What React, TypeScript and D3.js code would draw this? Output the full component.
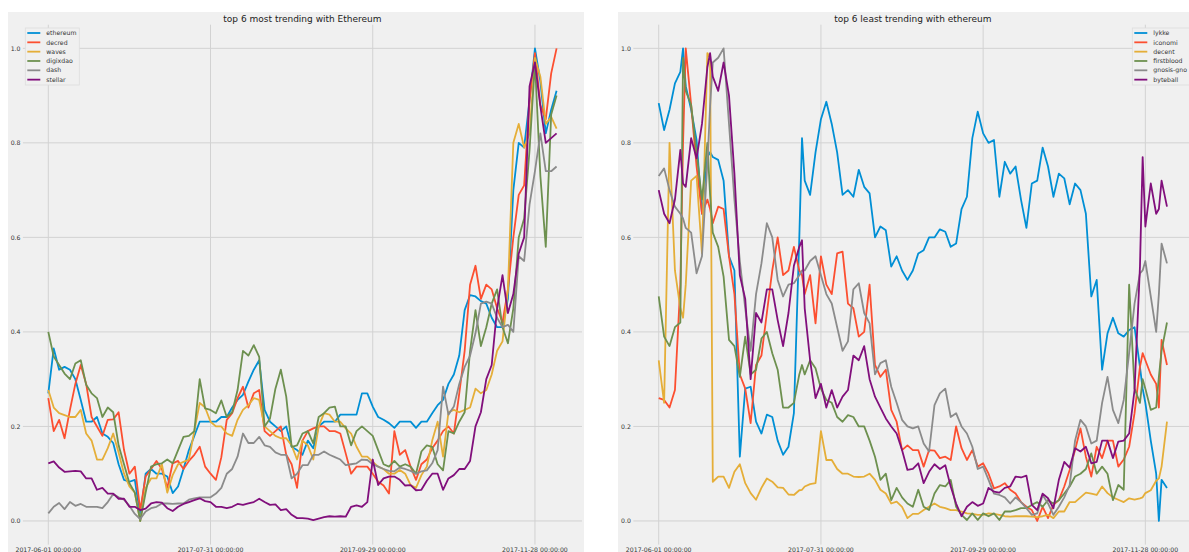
import React from "react";
import { scaleLinear, scaleTime, line, timeDay, timeParse } from "d3";

const startDate = new Date(2017, 5, 1);

// days since 2017-06-01, every two days
const leftDays = [0, 2, 4, 6, 8, 10, 12, 14, 16, 18, 20, 22, 24, 26, 28, 30, 32, 34, 36, 38, 40, 42, 44, 46, 48,
  50, 52, 54, 56, 58, 60, 62, 64, 66, 68, 70, 72, 74, 76, 78, 80, 82, 84, 86, 88, 90, 92, 94, 96, 98, 100,
  102, 104, 106, 108, 110, 112, 114, 116, 118, 120, 122, 124, 126, 128, 130, 132, 134, 136, 138, 140, 142,
  144, 146, 148, 150, 152, 154, 156, 158, 160, 162, 164, 166, 168, 170, 172, 174, 176, 178, 180, 182, 184, 186, 188];

// right panel also has a few odd days where a spike sits
const rightDays = [0, 2, 4, 6, 8, 9, 10,
  12, 14, 16, 18, 19, 20,
  22, 24, 26, 28, 30, 32, 34, 36, 38, 40,
  42, 44, 46, 48, 50, 52, 53, 54, 56, 58, 60,
  62, 64, 66, 68, 70, 72, 74, 76, 78, 80,
  82, 84, 86, 88, 90, 92, 94, 96, 98, 100,
  102, 104, 106, 108, 110, 112, 114, 116, 118, 120,
  122, 124, 126, 128, 130, 132, 134, 136, 138, 140,
  142, 144, 146, 148, 150, 152, 154, 156, 158, 160,
  162, 164, 166, 168, 170, 172, 174, 176,
  178, 179, 180, 182, 184, 185, 186, 188];

const leftNames = ["ethereum", "decred", "waves", "digixdao", "dash", "stellar"];
const rightNames = ["lykke", "iconomi", "decent", "firstblood", "gnosis-gno", "byteball"];

const ethereum = [0.27, 0.365, 0.32, 0.326, 0.32, 0.30, 0.256, 0.21, 0.21, 0.22, 0.185, 0.178, 0.165, 0.12, 0.087, 0.083,
  0.087, 0.01, 0.10, 0.11, 0.10, 0.1, 0.094, 0.059, 0.073, 0.11, 0.15, 0.18, 0.21, 0.21, 0.21, 0.21, 0.22, 0.22, 0.24,
  0.256, 0.267, 0.295, 0.32, 0.34, 0.235, 0.21, 0.20, 0.19, 0.20, 0.157, 0.15,
  0.14, 0.17, 0.154, 0.20, 0.21, 0.21, 0.21, 0.225, 0.225, 0.225, 0.225, 0.27, 0.27, 0.242, 0.22, 0.214, 0.207, 0.197,
  0.21, 0.21, 0.21, 0.197, 0.21, 0.21, 0.228, 0.245, 0.256, 0.29, 0.31, 0.35, 0.446, 0.478, 0.475, 0.465, 0.46, 0.43,
  0.41, 0.41, 0.47, 0.7, 0.8, 0.79, 0.89, 1.0, 0.93, 0.82, 0.87, 0.91];
const decred = [0.26, 0.19, 0.214, 0.175, 0.235, 0.29, 0.33, 0.29, 0.22, 0.2, 0.18, 0.214, 0.215, 0.23, 0.15, 0.1,
  0.115, 0.023, 0.094, 0.11, 0.127, 0.11, 0.07, 0.122, 0.127, 0.11, 0.127, 0.14, 0.157, 0.115, 0.10, 0.087, 0.135,
  0.214, 0.228, 0.26, 0.284, 0.24, 0.27, 0.277, 0.19, 0.18, 0.19, 0.2, 0.14, 0.12, 0.07,
  0.17, 0.19, 0.196, 0.2, 0.2, 0.19, 0.19, 0.185, 0.143, 0.1, 0.115, 0.115, 0.115, 0.1, 0.083, 0.075, 0.058, 0.19,
  0.14, 0.15, 0.115, 0.087, 0.12, 0.13, 0.154, 0.17, 0.19, 0.2, 0.185, 0.27, 0.36, 0.5, 0.54, 0.47, 0.5, 0.49, 0.45,
  0.42, 0.49, 0.6, 0.69, 0.71, 0.89, 0.99, 0.88, 0.85, 0.947, 1.0];
const waves = [0.277, 0.24, 0.228, 0.224, 0.22, 0.22, 0.235, 0.185, 0.17, 0.13, 0.13, 0.154, 0.185, 0.145, 0.1, 0.073,
  0.06, 0.0, 0.07, 0.09, 0.09, 0.12, 0.06, 0.097, 0.12, 0.125, 0.13, 0.19, 0.25, 0.24, 0.21, 0.2, 0.2, 0.185, 0.18,
  0.214, 0.235, 0.245, 0.26, 0.256, 0.2, 0.19, 0.18, 0.175, 0.175, 0.16, 0.13,
  0.17, 0.16, 0.13, 0.2, 0.228, 0.225, 0.21, 0.21, 0.196, 0.185, 0.157, 0.136, 0.136, 0.125, 0.115, 0.11, 0.1, 0.1,
  0.108, 0.1, 0.076, 0.07, 0.097, 0.115, 0.17, 0.21, 0.136, 0.23, 0.235, 0.23, 0.235, 0.24, 0.28, 0.27, 0.277, 0.31,
  0.36, 0.38, 0.49, 0.8, 0.84, 0.79, 0.82, 0.98, 0.94, 0.84, 0.855, 0.83];
const digixdao = [0.40, 0.348, 0.33, 0.312, 0.3, 0.333, 0.34, 0.288, 0.27, 0.26, 0.22, 0.24, 0.23, 0.16, 0.12, 0.08,
  0.06, 0.0, 0.06, 0.115, 0.12, 0.122, 0.13, 0.122, 0.15, 0.178, 0.18, 0.19, 0.3, 0.238, 0.235, 0.228, 0.255, 0.22,
  0.23, 0.277, 0.36, 0.35, 0.372, 0.347, 0.2, 0.217, 0.28, 0.32, 0.263, 0.157, 0.16,
  0.185, 0.19, 0.164, 0.22, 0.228, 0.24, 0.242, 0.2, 0.2, 0.16, 0.19, 0.2, 0.19, 0.18, 0.15, 0.12, 0.115, 0.127,
  0.115, 0.12, 0.115, 0.1, 0.147, 0.16, 0.157, 0.12, 0.107, 0.19, 0.185, 0.21, 0.23, 0.36, 0.446, 0.37, 0.41, 0.46,
  0.49, 0.41, 0.376, 0.45, 0.6, 0.64, 0.785, 0.97, 0.73, 0.58, 0.86, 0.9];
const dash = [0.016, 0.03, 0.038, 0.025, 0.04, 0.032, 0.036, 0.03, 0.03, 0.03, 0.027, 0.04, 0.057, 0.05, 0.045, 0.032,
  0.015, 0.004, 0.02, 0.027, 0.03, 0.037, 0.037, 0.036, 0.037, 0.037, 0.045, 0.048, 0.05, 0.05, 0.05, 0.058, 0.07,
  0.1, 0.11, 0.136, 0.185, 0.165, 0.165, 0.178, 0.16, 0.157, 0.145, 0.14, 0.14, 0.09, 0.1,
  0.118, 0.118, 0.14, 0.14, 0.147, 0.14, 0.135, 0.13, 0.118, 0.12, 0.122, 0.13, 0.129, 0.12, 0.115, 0.11, 0.106, 0.105,
  0.113, 0.11, 0.106, 0.1, 0.105, 0.107, 0.122, 0.15, 0.284, 0.225, 0.242, 0.29, 0.326, 0.35, 0.397, 0.46, 0.464, 0.46,
  0.43, 0.41, 0.415, 0.4, 0.56, 0.55, 0.67, 0.74, 0.82, 0.74, 0.74, 0.75];
const stellar = [0.122, 0.126, 0.113, 0.104, 0.105, 0.106, 0.105, 0.09, 0.09, 0.066, 0.07, 0.058, 0.058, 0.047, 0.047,
  0.03, 0.03, 0.023, 0.026, 0.037, 0.04, 0.039, 0.027, 0.021, 0.03, 0.036, 0.04, 0.044, 0.048, 0.042, 0.04, 0.03, 0.03,
  0.027, 0.03, 0.036, 0.034, 0.037, 0.04, 0.047, 0.04, 0.034, 0.035, 0.023, 0.025, 0.013, 0.006,
  0.006, 0.005, 0.002, 0.005, 0.008, 0.01, 0.009, 0.01, 0.009, 0.03, 0.033, 0.03, 0.04, 0.13, 0.076, 0.09, 0.094, 0.094,
  0.087, 0.075, 0.076, 0.065, 0.066, 0.085, 0.1, 0.1, 0.066, 0.09, 0.097, 0.11, 0.11, 0.127, 0.2, 0.23, 0.3, 0.33,
  0.45, 0.52, 0.44, 0.48, 0.566, 0.6, 0.92, 0.97, 0.877, 0.8, 0.81, 0.82];

const lykke = [0.884, 0.827, 0.87, 0.926, 0.95, 1.0, 0.92,
  0.87, 0.806, 0.65, 0.77, 0.78, 0.77,
  0.764, 0.72, 0.56, 0.53, 0.136, 0.28, 0.284, 0.21, 0.185, 0.225,
  0.22, 0.17, 0.14, 0.157, 0.228, 0.6, 0.81, 0.72, 0.69, 0.78, 0.85,
  0.887, 0.84, 0.78, 0.69, 0.7, 0.686, 0.743, 0.707, 0.693, 0.6,
  0.623, 0.615, 0.538, 0.56, 0.53, 0.51, 0.53, 0.566, 0.573, 0.6,
  0.6, 0.617, 0.612, 0.58, 0.587, 0.66, 0.686, 0.81, 0.866, 0.82,
  0.8, 0.806, 0.686, 0.76, 0.735, 0.75, 0.68, 0.62, 0.714, 0.72,
  0.79, 0.75, 0.686, 0.735, 0.725, 0.67, 0.714, 0.7, 0.65, 0.475,
  0.51, 0.32, 0.397, 0.43, 0.397, 0.39, 0.404, 0.41,
  0.326, 0.28, 0.25, 0.17, 0.1, 0.0, 0.087, 0.07];
const iconomi = [0.26, 0.256, 0.24, 0.277, 0.5, 0.8, 1.0,
  0.88, 0.75, 0.65, 0.68, 0.66, 0.63,
  0.665, 0.66, 0.56, 0.48, 0.31, 0.28, 0.207, 0.33, 0.35, 0.44,
  0.53, 0.6, 0.52, 0.53, 0.58, 0.53, 0.52, 0.48, 0.52, 0.418, 0.56,
  0.5, 0.48, 0.566, 0.57, 0.46, 0.45, 0.39, 0.4, 0.5, 0.33,
  0.305, 0.32, 0.235, 0.21, 0.15, 0.16, 0.15, 0.15, 0.115, 0.15,
  0.149, 0.133, 0.136, 0.129, 0.2, 0.154, 0.129, 0.15, 0.115, 0.122,
  0.1, 0.069, 0.073, 0.08, 0.066, 0.058, 0.04, 0.03, 0.023, 0.0,
  0.03, 0.006, 0.034, 0.044, 0.073, 0.108, 0.15, 0.196, 0.136, 0.094,
  0.157, 0.133, 0.17, 0.17, 0.115, 0.13, 0.157, 0.228,
  0.326, 0.355, 0.34, 0.31, 0.29, 0.24, 0.383, 0.33];
const decent = [0.34, 0.25, 0.8, 0.53, 0.45, 0.43, 0.5,
  0.72, 0.73, 0.566, 0.99, 0.98, 0.083,
  0.094, 0.094, 0.07, 0.104, 0.12, 0.08, 0.059, 0.045, 0.07, 0.09,
  0.083, 0.071, 0.07, 0.056, 0.055, 0.065, 0.066, 0.073, 0.078, 0.08, 0.19,
  0.129, 0.129, 0.11, 0.1, 0.1, 0.094, 0.093, 0.094, 0.1, 0.087,
  0.066, 0.058, 0.037, 0.041, 0.03, 0.006, 0.015, 0.015, 0.023, 0.03,
  0.037, 0.03, 0.027, 0.023, 0.023, 0.02, 0.016, 0.015, 0.013, 0.013,
  0.016, 0.015, 0.013, 0.01, 0.009, 0.01, 0.01, 0.01, 0.009, 0.008,
  0.01, 0.013, 0.006, 0.02, 0.02, 0.04, 0.04, 0.05, 0.06, 0.058,
  0.055, 0.073, 0.059, 0.05, 0.045, 0.04, 0.048, 0.045,
  0.048, 0.05, 0.059, 0.065, 0.085, 0.09, 0.115, 0.21];
const firstblood = [0.475, 0.39, 0.37, 0.41, 0.42, 0.98, 0.91,
  0.88, 0.78, 0.68, 0.8, 0.69, 0.61,
  0.58, 0.517, 0.383, 0.37, 0.305, 0.39, 0.31, 0.32, 0.386, 0.4,
  0.355, 0.32, 0.24, 0.24, 0.25, 0.31, 0.33, 0.31, 0.34, 0.323, 0.28,
  0.256, 0.25, 0.22, 0.21, 0.224, 0.22, 0.2, 0.2, 0.17, 0.136,
  0.087, 0.1, 0.044, 0.07, 0.05, 0.037, 0.03, 0.066, 0.03, 0.023,
  0.058, 0.076, 0.073, 0.087, 0.03, 0.013, 0.002, 0.016, 0.002, 0.016,
  0.01, 0.016, 0.002, 0.02, 0.02, 0.023, 0.027, 0.027, 0.034, 0.04,
  0.03, 0.044, 0.037, 0.044, 0.058, 0.073, 0.094, 0.1, 0.11, 0.143,
  0.1, 0.115, 0.1, 0.044, 0.076, 0.066, 0.5, 0.28,
  0.25, 0.3, 0.28, 0.235, 0.24, 0.305, 0.36, 0.42];
const gnosisGno = [0.73, 0.746, 0.70, 0.665, 0.65, 0.64, 0.62,
  0.61, 0.524, 0.56, 0.757, 0.877, 0.97,
  0.98, 1.0, 0.84, 0.68, 0.55, 0.45, 0.36, 0.48, 0.545, 0.63,
  0.6, 0.51, 0.475, 0.5, 0.503, 0.52, 0.53, 0.53, 0.55, 0.56, 0.52,
  0.48, 0.46, 0.41, 0.36, 0.38, 0.49, 0.503, 0.44, 0.418, 0.31,
  0.334, 0.34, 0.284, 0.25, 0.214, 0.2, 0.196, 0.2, 0.164, 0.147,
  0.245, 0.27, 0.28, 0.22, 0.228, 0.2, 0.185, 0.157, 0.11, 0.115,
  0.087, 0.058, 0.055, 0.05, 0.037, 0.05, 0.04, 0.027, 0.013, 0.016,
  0.055, 0.037, 0.013, 0.03, 0.05, 0.076, 0.17, 0.214, 0.2, 0.164,
  0.17, 0.25, 0.305, 0.235, 0.207, 0.256, 0.355, 0.46,
  0.524, 0.53, 0.55, 0.475, 0.4, 0.48, 0.587, 0.545];
const byteball = [0.70, 0.65, 0.63, 0.68, 0.785, 0.714, 0.707,
  0.81, 0.767, 0.84, 0.96, 0.99, 0.94,
  0.91, 0.97, 0.9, 0.735, 0.52, 0.47, 0.3, 0.44, 0.42, 0.49,
  0.49, 0.425, 0.37, 0.44, 0.54, 0.58, 0.594, 0.45, 0.34, 0.26, 0.29,
  0.24, 0.277, 0.24, 0.263, 0.277, 0.35, 0.34, 0.37, 0.3, 0.263,
  0.24, 0.217, 0.2, 0.185, 0.15, 0.108, 0.11, 0.122, 0.08, 0.104,
  0.12, 0.11, 0.118, 0.073, 0.037, 0.01, 0.03, 0.04, 0.032, 0.037,
  0.07, 0.062, 0.06, 0.07, 0.073, 0.094, 0.092, 0.096, 0.034, 0.023,
  0.058, 0.048, 0.027, 0.087, 0.125, 0.113, 0.154, 0.147, 0.157, 0.122,
  0.125, 0.17, 0.17, 0.133, 0.168, 0.17, 0.185, 0.277,
  0.538, 0.77, 0.623, 0.714, 0.65, 0.66, 0.72, 0.665];

const colors = ["#008fd5", "#fc4f30", "#e5ae38", "#6d904f", "#8b8b8b", "#810f7c"];
const xTickLabels = ["2017-06-01 00:00:00", "2017-07-31 00:00:00", "2017-09-29 00:00:00", "2017-11-28 00:00:00"];
const yTickValues = [0, 0.2, 0.4, 0.6, 0.8, 1.0];

const parseTick = timeParse("%Y-%m-%d %H:%M:%S");
const font = "'DejaVu Sans', Verdana, sans-serif";

interface PanelProps {
  bgLeft: number;
  bgRight: number;
  axLeft: number;
  axRight: number;
  title: string;
  names: string[];
  days: number[];
  series: number[][];
  legendLeft: number;
  legendWidth: number;
}

const Panel: React.FC<PanelProps> = ({
  bgLeft, bgRight, axLeft, axRight, title, names, days, series, legendLeft, legendWidth,
}) => {
  const axTop = 24.7;
  const axBottom = 544.6;

  const dates = days.map((d) => timeDay.offset(startDate, d));
  const first = dates[0].getTime();
  const last = dates[dates.length - 1].getTime();
  const pad = (last - first) * 0.05;

  const xScale = scaleTime()
    .domain([new Date(first - pad), new Date(last + pad)])
    .range([axLeft, axRight]);
  const yScale = scaleLinear().domain([-0.05, 1.05]).range([axBottom, axTop]);

  const path = line<number>()
    .x((_, i) => xScale(dates[i]))
    .y((v) => yScale(v));

  return (
    <g>
      <rect x={bgLeft} y={12} width={bgRight - bgLeft} height={540} fill="#f0f0f0" />
      {yTickValues.map((t) => (
        <g key={`y${t}`}>
          <line x1={axLeft} x2={axRight} y1={yScale(t)} y2={yScale(t)} stroke="#d2d2d2" strokeWidth={1} />
          <text x={axLeft - 2.4} y={yScale(t)} dy="0.35em" textAnchor="end" fontSize={6.2} fill="#333" fontFamily={font}>
            {t.toFixed(1)}
          </text>
        </g>
      ))}
      {xTickLabels.map((lab) => {
        const x = xScale(parseTick(lab) as Date);
        return (
          <g key={lab}>
            <line x1={x} x2={x} y1={axTop} y2={axBottom} stroke="#d2d2d2" strokeWidth={1} />
            <text x={x} y={551.5} textAnchor="middle" fontSize={6.2} fill="#333" fontFamily={font}>
              {lab}
            </text>
          </g>
        );
      })}
      {series.map((s, i) => (
        <path key={names[i]} d={path(s) || ""} fill="none" stroke={colors[i]} strokeWidth={1.8} strokeLinejoin="round" />
      ))}
      <text x={(axLeft + axRight) / 2} y={22} textAnchor="middle" fontSize={9} fill="#222" fontFamily={font}>
        {title}
      </text>
      <rect x={legendLeft} y={28} width={legendWidth} height={57} fill="#f0f0f0" stroke="#dddddd" strokeWidth={0.8} />
      {names.map((n, i) => {
        const y = 33 + i * 9.33;
        return (
          <g key={`leg${n}`}>
            <line x1={legendLeft + 2} x2={legendLeft + 15} y1={y} y2={y} stroke={colors[i]} strokeWidth={1.8} />
            <text x={legendLeft + 21} y={y} dy="0.35em" fontSize={6.2} fill="#333" fontFamily={font}>
              {n}
            </text>
          </g>
        );
      })}
    </g>
  );
};

export default function App() {
  return (
    <svg
      width={1189}
      height={552}
      style={{ position: "absolute", left: 0, top: 0, background: "#ffffff" }}
    >
      <Panel
        bgLeft={8}
        bgRight={584}
        axLeft={22.9}
        axRight={582}
        title="top 6 most trending with Ethereum"
        names={leftNames}
        days={leftDays}
        series={[ethereum, decred, waves, digixdao, dash, stellar]}
        legendLeft={25.3}
        legendWidth={54}
      />
      <Panel
        bgLeft={618}
        bgRight={1194}
        axLeft={633.3}
        axRight={1192.4}
        title="top 6 least trending with ethereum"
        names={rightNames}
        days={rightDays}
        series={[lykke, iconomi, decent, firstblood, gnosisGno, byteball]}
        legendLeft={1132.3}
        legendWidth={58}
      />
    </svg>
  );
}
